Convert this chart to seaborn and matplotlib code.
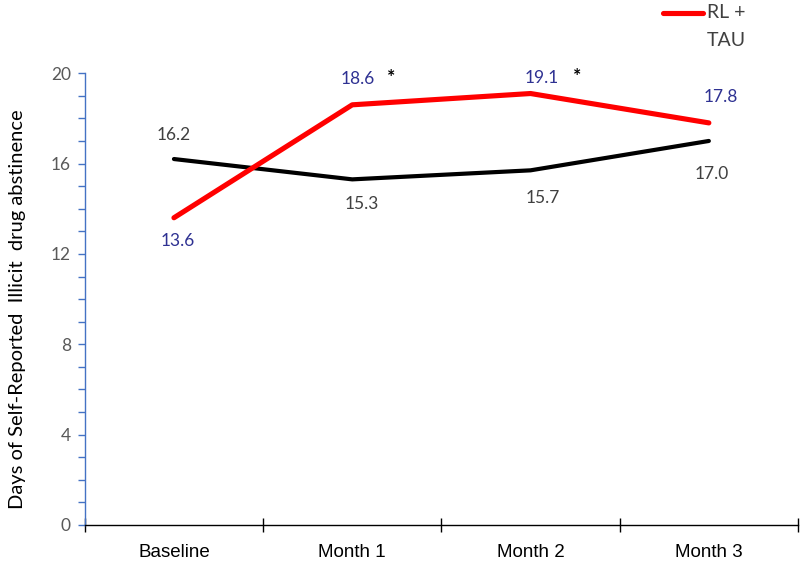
import numpy as np
import pandas as pd
import seaborn as sns
from matplotlib import pyplot as plt
from matplotlib.ticker import MultipleLocator, FixedLocator
from matplotlib.lines import Line2D

# data
timepoints = ['Baseline', 'Month 1', 'Month 2', 'Month 3']
rl_tau = [13.6, 18.6, 19.1, 17.8]
tau = [16.2, 15.3, 15.7, 17.0]
significant = [False, True, True, False]

# where the value labels sit relative to their point (pixels), as in the original
rl_offsets = [(4, -23), (6, 26), (11, 16), (12, 26)]
tau_offsets = [(0, 24), (10, -25), (12, -28), (3, -33)]
star_offsets = [None, (39, 27), (47, 17), None]

df = pd.DataFrame({
    'time': timepoints * 2,
    'days': rl_tau + tau,
    'group': ['RL + TAU'] * 4 + ['TAU'] * 4,
})

sns.set_style('white')
plt.rcParams['font.family'] = ['Lato', 'DejaVu Sans']

fig = plt.figure(figsize=(8, 5.63), dpi=100)
ax = fig.add_axes([0.106, 0.0675, 0.8915, 0.8025])

sns.lineplot(data=df[df.group == 'TAU'], x='time', y='days', color='black',
             linewidth=3.0, sort=False, ax=ax, solid_capstyle='round')
sns.lineplot(data=df[df.group == 'RL + TAU'], x='time', y='days', color='#ff0000',
             linewidth=3.7, sort=False, ax=ax, solid_capstyle='round')

ax.set_xlim(-0.5, 3.5)
ax.set_ylim(0, 20)

# data labels
navy = '#2e3192'
grey = '#404040'
for i, (r, t) in enumerate(zip(rl_tau, tau)):
    ax.annotate(f'{r:.1f}', (i, r), xytext=rl_offsets[i], textcoords='offset pixels',
                ha='center', va='center', color=navy, fontsize=12.5)
    ax.annotate(f'{t:.1f}', (i, t), xytext=tau_offsets[i], textcoords='offset pixels',
                ha='center', va='center', color=grey, fontsize=12.5)
    if significant[i]:
        ax.annotate('*', (i, r), xytext=star_offsets[i], textcoords='offset pixels',
                    ha='center', va='center', color='black', fontsize=14, fontweight='bold')

# axes styling
for s in ['top', 'right']:
    ax.spines[s].set_visible(False)
ax.spines['left'].set_color('#4472c4')
ax.spines['left'].set_linewidth(1.0)
ax.spines['bottom'].set_color('black')
ax.spines['bottom'].set_linewidth(1.0)

ax.yaxis.set_major_locator(MultipleLocator(4))
ax.yaxis.set_minor_locator(MultipleLocator(1))
ax.tick_params(axis='y', which='both', direction='out', length=5, width=1,
               color='#4472c4', left=True, labelcolor='#595959', labelsize=12.5, pad=5)

ax.xaxis.set_major_locator(FixedLocator([0, 1, 2, 3]))
ax.xaxis.set_minor_locator(FixedLocator([-0.5, 0.5, 1.5, 2.5, 3.5]))
ax.tick_params(axis='x', which='major', length=0, pad=14)
ax.tick_params(axis='x', which='minor', direction='inout', length=10, width=1, color='black', bottom=True)
for lab in ax.get_xticklabels():
    lab.set_fontfamily('Liberation Sans')
    lab.set_fontsize(13.5)
    lab.set_color('black')

ax.set_xlabel('')
ax.set_ylabel('Days of Self-Reported  Illicit  drug abstinence', fontsize=14.5, color='black')
ax.yaxis.set_label_coords(-0.082, 0.478)

# legend (only the red series is visible in the original)
fig.add_artist(Line2D([663 / 800, 703 / 800], [1 - 13 / 563, 1 - 13 / 563], color='#ff0000',
                      linewidth=3.7, solid_capstyle='round', transform=fig.transFigure))
fig.text(707 / 800, 1 - 13 / 563, 'RL +', color='#404040', fontsize=14, va='center', ha='left')
fig.text(707 / 800, 1 - 41 / 563, 'TAU', color='#404040', fontsize=14, va='center', ha='left')

fig.savefig('out.png', dpi=100)
